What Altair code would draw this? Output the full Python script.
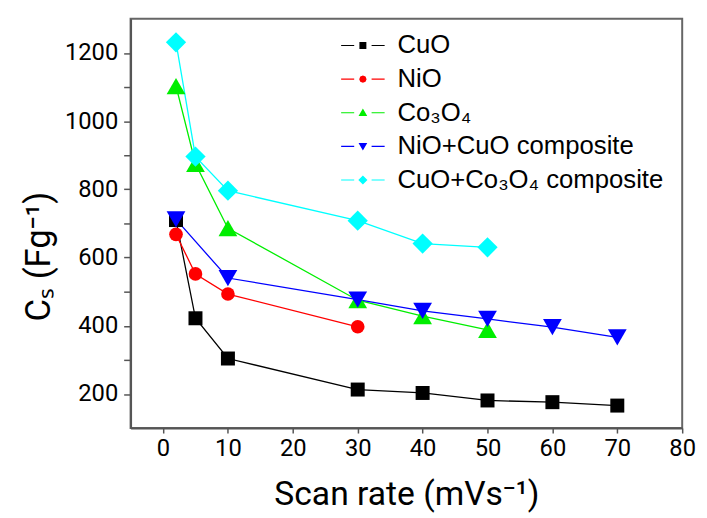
import altair as alt
import pandas as pd

series = ["CuO", "NiO", "Co₃O₄", "NiO+CuO composite", "CuO+Co₃O₄ composite"]
colors = ["#000000", "#ff0000", "#00ee00", "#0000ff", "#00ffff"]
shapes = ["square", "circle", "triangle-up", "triangle-down", "diamond"]
sizes = [200, 190, 360, 360, 420]

x_cuo = [2, 5, 10, 30, 40, 50, 60, 70]
y_cuo = [710, 422, 304, 213, 203, 181, 176, 166]
x_nio = [2, 5, 10, 30]
y_nio = [668, 552, 493, 397]
x_co = [2, 5, 10, 30, 40, 50]
y_co = [1103, 875, 686, 475, 428, 388]
x_nc = [2, 10, 30, 40, 50, 60, 70]
y_nc = [712, 540, 477, 444, 420, 396, 366]
x_cc = [2, 5, 10, 30, 40, 50]
y_cc = [1231, 896, 796, 708, 641, 630]

x_ticks = list(range(0, 81, 5))
y_ticks = list(range(200, 1201, 100))

rows = []
for name, xs, ys in zip(series, [x_cuo, x_nio, x_co, x_nc, x_cc],
                        [y_cuo, y_nio, y_co, y_nc, y_cc]):
    for xv, yv in zip(xs, ys):
        rows.append({"series": name, "x": xv, "y": yv})
df = pd.DataFrame(rows)

# legend symbol paths: line - marker - line (line segments as thin filled bars)
seg = "M-2,-0.05H-0.8V0.05H-2ZM0.8,-0.05H2V0.05H0.8Z"
leg_paths = [
    seg + "M-0.32,-0.32H0.32V0.32H-0.32Z",
    seg + "M-0.34,0L-0.24,-0.24L0,-0.34L0.24,-0.24L0.34,0L0.24,0.24L0,0.34L-0.24,0.24Z",
    seg + "M0,-0.38L0.4,0.3L-0.4,0.3Z",
    seg + "M0,0.38L0.4,-0.3L-0.4,-0.3Z",
    seg + "M0,-0.42L0.42,0L0,0.42L-0.42,0Z",
]

x_scale = alt.Scale(domain=[-5, 80], nice=False, zero=False)
y_scale = alt.Scale(domain=[100, 1300], nice=False, zero=False)

x_axis = alt.Axis(
    values=x_ticks, format="d",
    labelExpr="datum.value % 10 == 0 ? datum.label : ''",
    title="Scan rate (mVs⁻¹)",
    grid=False, tickSize=5, labelFlush=False, labelOverlap=False,
    labelFont="Roboto", labelFontSize=24, labelColor="#000",
    labelPadding=4, titleFont="Roboto", titleFontSize=34,
    titleFontWeight="normal", titleColor="#000", titleBaseline="alphabetic",
    titleY=77, domainColor="#555", domainWidth=2, tickColor="#555", tickWidth=1.5,
)
y_axis = alt.Axis(
    values=y_ticks, format="d",
    labelExpr="datum.value % 200 == 0 ? datum.label : ''",
    title="Cₛ (Fg⁻¹)",
    grid=False, tickSize=7, labelFlush=False, labelOverlap=False,
    labelFont="Roboto", labelFontSize=24, labelColor="#000",
    labelPadding=6, titleFont="Roboto", titleFontSize=35,
    titleFontWeight="normal", titleColor="#000", titleBaseline="alphabetic",
    titleX=-82, titleY=240, titleAngle=270,
    domainColor="#555", domainWidth=2, tickColor="#555", tickWidth=1.5,
)

base = alt.Chart(df)

lines = base.mark_line(strokeWidth=1.3).encode(
    x=alt.X("x:Q", scale=x_scale, axis=x_axis),
    y=alt.Y("y:Q", scale=y_scale, axis=y_axis),
    stroke=alt.Stroke("series:N", scale=alt.Scale(domain=series, range=colors),
                      legend=None),
    detail="series:N",
    order="x:Q",
)

point_layers = []
for name, col, shp, sz in zip(series, colors, shapes, sizes):
    point_layers.append(
        base.transform_filter(alt.datum.series == name).mark_point(
            filled=True, shape=shp, size=sz, color=col, opacity=1
        ).encode(
            x=alt.X("x:Q", scale=x_scale),
            y=alt.Y("y:Q", scale=y_scale),
        )
    )

# legend-only layer: no rows drawn, the legend comes from the explicit domain
legend_layer = base.transform_filter(alt.datum.x < -100).mark_point(
    size=484, filled=True, opacity=1
).encode(
    x=alt.X("x:Q", scale=x_scale),
    y=alt.Y("y:Q", scale=y_scale),
    color=alt.Color("series:N", scale=alt.Scale(domain=series, range=colors),
                    legend=alt.Legend(
                        title=None, orient="none", legendX=222, legendY=14,
                        labelFont="Liberation Sans", labelFontSize=26,
                        labelColor="#000", symbolSize=484, labelOffset=22,
                        rowPadding=8, padding=0, symbolStrokeWidth=0,
                        symbolOpacity=1, labelLimit=400,
                    )),
    shape=alt.Shape("series:N", scale=alt.Scale(domain=series, range=leg_paths)),
)

chart = alt.layer(legend_layer, lines, *point_layers).properties(
    width=558, height=414,
    autosize=alt.AutoSizeParams(type="none"),
    padding={"left": 124, "top": 8, "right": 17, "bottom": 88},
).configure_view(stroke="#666", strokeWidth=2)

chart.save("out.html", embed_options={"renderer": "svg", "actions": False})
